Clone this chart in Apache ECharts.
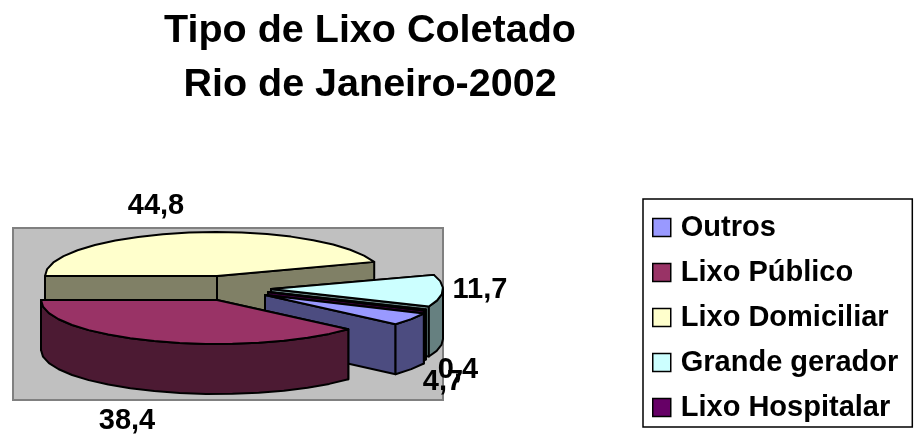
<!DOCTYPE html>
<html><head><meta charset="utf-8">
<style>html,body{margin:0;padding:0;background:#fff}#c{width:914px;height:435px}</style>
<script src="https://cdn.jsdelivr.net/npm/echarts@6/dist/echarts.min.js"></script>
</head><body><div id="c"></div>
<script>
const categories = ['Outros','Lixo Público','Lixo Domiciliar','Grande gerador','Lixo Hospitalar'];
const values = [4.7,38.4,44.8,11.7,0.4];
const valueLabels = ['4,7','38,4','44,8','11,7','0,4'];
const titleLines = ['Tipo de Lixo Coletado','Rio de Janeiro-2002'];

// Style of each slice: top colour, wall colour
const topColors = ['#9999FF','#993366','#FFFFCC','#CCFFFF','#660066'];
const wallColors = ['#4C4C80','#4C1A33','#808066','#668080','#330033'];
// Exploded-slice layout in the 3D view
const FONT = '"Liberation Sans",Arial,sans-serif';
const layout = {
  apex: [[265,295],[217,300],[217,276],[271,289],[268,292]],
  label: [[443,382],[127,421],[156,206],[480,290],[458,370]],
  rxLeft: [175,176,172,172,172], rxRight: [175,176,166,172,172], ry: 44, depth: 50, step: 9,
  startAngle: 180 // Lixo Domiciliar begins here, clockwise
};
const total = values.reduce((a,b)=>a+b,0);
// angle ranges from values (clockwise order starting at Domiciliar)
const ranges = {};
(function(){
  let a = layout.startAngle;
  [2,3,4,0,1].forEach(i=>{ const sw = values[i]/total*360; ranges[i]=[a,a-sw]; a-=sw; });
})();
function rimPoint(i,deg,dy){
  const r=deg*Math.PI/180, c=layout.apex[i], co=Math.cos(r);
  return [c[0]+(co<0?layout.rxLeft[i]:layout.rxRight[i])*co, c[1]-layout.ry*Math.sin(r)+(dy||0)];
}
function arc(i,from,to,dy){
  const pts=[]; const n=Math.max(1,Math.ceil(Math.abs(from-to)/layout.step));
  for(let k=0;k<=n;k++) pts.push(rimPoint(i,from+(to-from)*k/n,dy));
  return pts;
}
const lineStyle={stroke:'#000',lineWidth:2,lineJoin:'round'};
function poly(points,fill){return {type:'polygon',shape:{points},style:Object.assign({fill},lineStyle)};}
function renderSlice(i){
  const [a0,a1]=ranges[i], c=layout.apex[i], d=layout.depth, kids=[];
  const wall=wallColors[i];
  [a0,a1].forEach(a=>{
    const e=rimPoint(i,a);
    kids.push(poly([c,e,[e[0],e[1]+d],[c[0],c[1]+d]],wall));
  });
  if(a1<0){
    const s=a0>0&&a0<180?0:a0;
    kids.push(poly(arc(i,s,a1,0).concat(arc(i,a1,s,d)),wall));
  }
  kids.push(poly([c].concat(arc(i,a0,a1,0)),topColors[i]));
  kids.push({type:'text',style:{text:valueLabels[i],x:layout.label[i][0],y:layout.label[i][1],
    align:'center',verticalAlign:'middle',font:'bold 29px '+FONT,fill:'#000'}});
  return {type:'group',children:kids};
}
const paintOrder=[2,3,4,0,1];
const chart=echarts.init(document.getElementById('c'),null,{renderer:'canvas'});
chart.setOption({
  animation:false,
  title:{text:titleLines.join('\n'),left:365,top:-1,textAlign:'center',
    textStyle:{fontFamily:FONT,fontWeight:'bold',fontSize:39.5,lineHeight:54,color:'#000'}},
  grid:{left:13,top:228,width:430,height:172,show:true,backgroundColor:'#C0C0C0',borderColor:'#808080',borderWidth:2},
  xAxis:{show:false,type:'value'},yAxis:{show:false,type:'value'},
  legend:{orient:'vertical',left:643,top:199,padding:[14,14,5,9],itemWidth:18,itemHeight:18,itemGap:16,
    backgroundColor:'#fff',borderColor:'#000',borderWidth:1.5,icon:'rect',
    itemStyle:{borderColor:'#000',borderWidth:1.5},
    data:categories,textStyle:{fontFamily:FONT,fontWeight:'bold',fontSize:29,color:'#000',padding:[0,0,0,5]}},
  series:paintOrder.map(i=>({
    type:'custom',name:categories[i],coordinateSystem:'none',silent:true,
    itemStyle:{color:topColors[i]},
    data:[values[i]],
    renderItem:()=>renderSlice(i)
  }))
});
</script></body></html>
